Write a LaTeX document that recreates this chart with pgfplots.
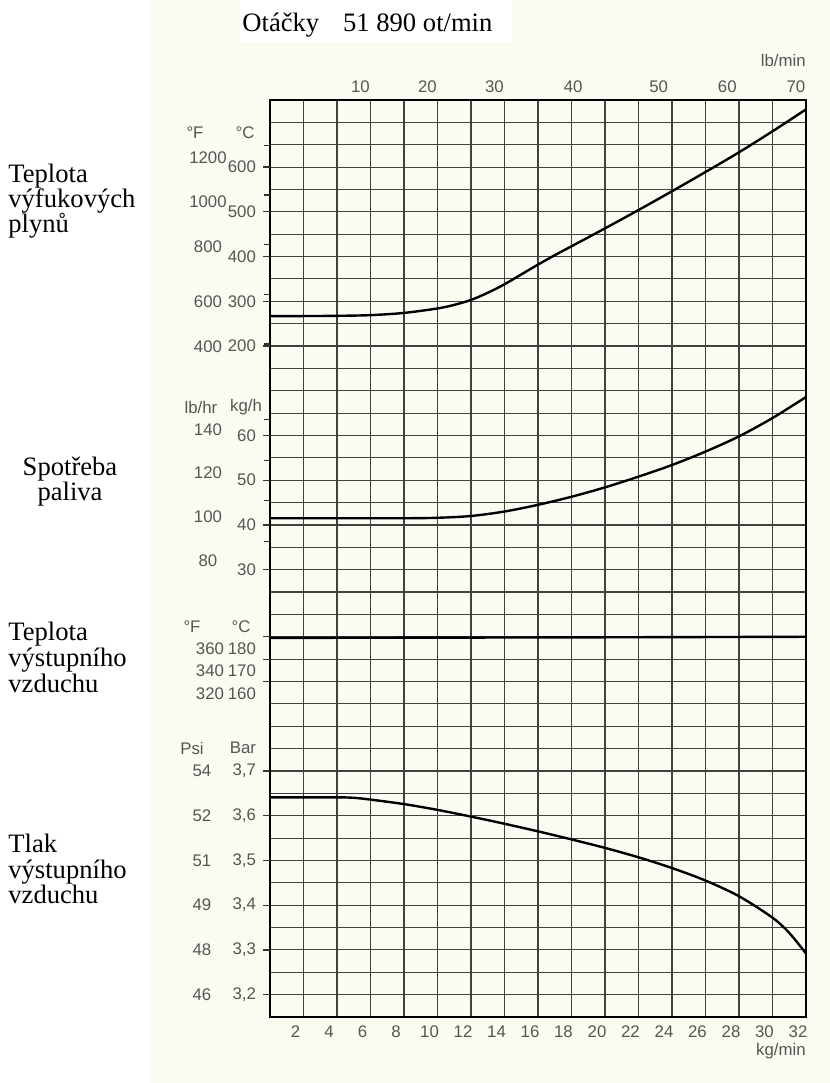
\documentclass[border=0pt]{standalone}
\usepackage{fontspec}
\setmainfont{Liberation Serif}
\newfontfamily\arial{Liberation Sans}
\usepackage{pgfplots}
\pgfplotsset{compat=1.18}
\definecolor{cream}{RGB}{251,251,242}
\definecolor{lab}{RGB}{85,85,85}
\pgfplotsset{
  base/.style={at={(135pt,33pt)}, anchor=south west, scale only axis,
    width=268pt, height=458.5pt, xmin=0, xmax=32, clip=false,
    tick label style={font=\arial\fontsize{8.4}{10}\selectfont, text=lab},
    /pgf/number format/assume math mode=true},
  over/.style={base, hide x axis, axis y line*=left, axis line style={draw=none},
    tick align=outside, major tick length=3.5pt, minor tick length=3pt,
    tick style={black!80, line width=0.6pt},
    extra y tick style={major tick length=0pt}},
  curve/.style={black, line width=1.2pt, smooth, no marks},
}
\begin{document}
\begin{tikzpicture}[x=0.5pt,y=0.5pt]
\path[use as bounding box] (0,0) rectangle (830,1083);
\fill[cream] (150,0) rectangle (830,1083);
\fill[white] (240,1041) rectangle (512,1083);

% grid axis
\begin{axis}[base, ymin=0, ymax=41,
  xtick={0,2,...,32},
  xticklabels={,2,4,6,8,10,12,14,16,18,20,22,24,26,28,30,32},
  ytick={0,1,...,41}, yticklabels={},
  grid=major, major grid style={black!75, line width=0.55pt},
  major tick length=0pt,
  axis line style={black, line width=0.8pt},
  xticklabel style={xshift=-4pt, yshift=-1pt}]
\end{axis}

% top lb/min labels
\begin{axis}[base, ymin=0, ymax=41, hide y axis, axis x line*=top,
  axis line style={draw=none}, major tick length=0pt,
  xtick={5.4,9.4,13.4,18.1,23.2,27.3,31.4},
  xticklabels={10,20,30,40,50,60,70}]
\end{axis}

% exhaust gas temperature
\pgfplotstableread{
kg T
0 267
2 267
4 267.5
6 269
8 274
10 284
11 292
12 303
13 319
14 338
15 360
16 382
17 403
18 423
20 463
22 504
24 546
26 589
28 633
30 680
32 729
}\exhaust
\begin{axis}[over, ymin=-1300, ymax=750,
  ytick={200,300,400,500,600},
  minor ytick={204.4,315.6,426.7,537.8,648.9},
  extra y ticks={198,298,421,522,622},
  extra y tick labels={400,600,800,1000,1200},
  extra y tick style={yticklabel style={anchor=center, xshift=-31pt}}]
\addplot[curve] table[x=kg, y=T] {\exhaust};
\end{axis}

% fuel consumption
\pgfplotstableread{
kg F
0 41.5
4 41.5
8 41.5
10 41.6
12 42.0
14 43.0
16 44.5
18 46.3
20 48.4
22 50.8
24 53.4
26 56.4
28 59.8
30 63.9
32 68.6
}\fuel
\begin{axis}[over, ymin=-70, ymax=135,
  ytick={30,40,50,60},
  minor ytick={36.3,45.4,54.4,63.5},
  extra y ticks={32.1,41.8,51.6,61.4},
  extra y tick labels={80,100,120,140},
  extra y tick style={yticklabel style={anchor=center, xshift=-31pt}}]
\addplot[curve] table[x=kg, y=F] {\fuel};
\end{axis}

% outlet air temperature
\pgfplotstableread{
kg T
0 179.5
16 179.7
32 180.0
}\airtemp
\begin{axis}[over, ymin=10, ymax=420,
  ytick={160,170,180},
  yticklabel style={yshift=-6pt},
  extra y ticks={160,170,180},
  extra y tick labels={320,340,360},
  extra y tick style={yticklabel style={anchor=center, xshift=-30pt}}]
\addplot[curve] table[x=kg, y=T] {\airtemp};
\end{axis}

% outlet air pressure
\pgfplotstableread{
kg P
0 3.641
4 3.641
5 3.640
6 3.636
8 3.626
10 3.613
12 3.598
14 3.582
16 3.565
18 3.547
20 3.528
22 3.507
24 3.483
26 3.455
28 3.420
30 3.372
31 3.338
32 3.292
}\press
\begin{axis}[over, ymin=3.15, ymax=5.2,
  ytick={3.2,3.3,3.4,3.5,3.6,3.7},
  yticklabels={{3,2},{3,3},{3,4},{3,5},{3,6},{3,7}},
  extra y ticks={3.2,3.3,3.4,3.5,3.6,3.7},
  extra y tick labels={46,48,49,51,52,54},
  extra y tick style={yticklabel style={anchor=center, xshift=-34pt}}]
\addplot[curve] table[x=kg, y=P] {\press};
\end{axis}

% unit labels
\begin{scope}[every node/.style={font=\arial\fontsize{8.4}{10}\selectfont, text=lab, inner sep=0pt}]
\node at (195,950) {°F};
\node at (245,950) {°C};
\node at (201,676) {lb/hr};
\node at (246,676) {kg/h};
\node at (192,456) {°F};
\node at (241,456) {°C};
\node at (192,335) {Psi};
\node at (243,335) {Bar};
\node[anchor=base east] at (806,1016) {lb/min};
\node[anchor=base east] at (806,27) {kg/min};
\end{scope}

% title and side labels
\begin{scope}[every node/.style={font=\fontsize{13.3}{15}\selectfont, inner sep=0pt}]
\node[anchor=base west] at (242,1051) {Otáčky\hspace{0.9em}51 890 ot/min};
\node[anchor=base west] at (8,900) {Teplota};
\node[anchor=base west] at (8,875) {výfukových};
\node[anchor=base west] at (8,850) {plynů};
\node[anchor=base] at (70,607) {Spotřeba};
\node[anchor=base] at (70,582) {paliva};
\node[anchor=base west] at (8,442) {Teplota};
\node[anchor=base west] at (8,416) {výstupního};
\node[anchor=base west] at (8,390) {vzduchu};
\node[anchor=base west] at (8,230) {Tlak};
\node[anchor=base west] at (8,204) {výstupního};
\node[anchor=base west] at (8,179) {vzduchu};
\end{scope}
\end{tikzpicture}
\end{document}
